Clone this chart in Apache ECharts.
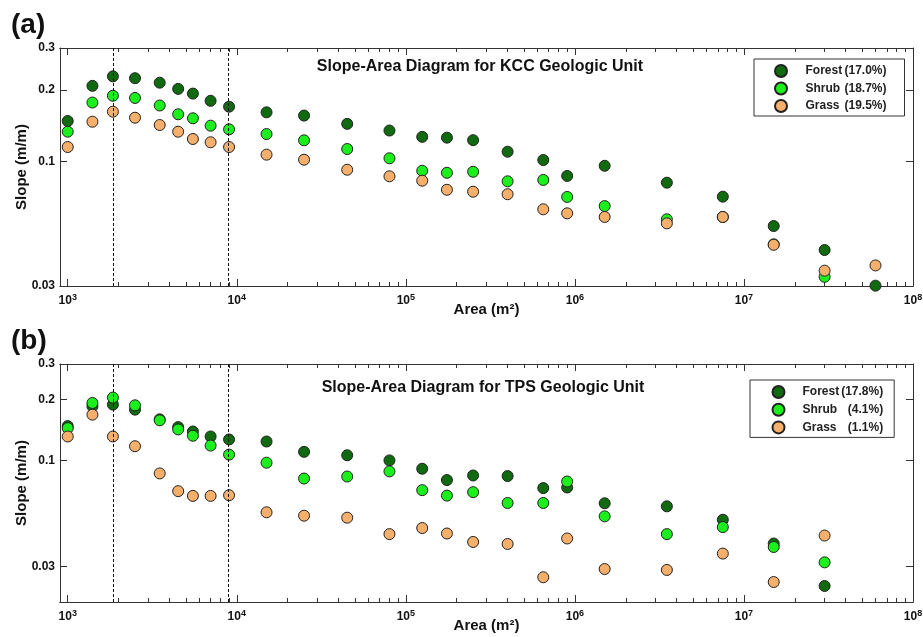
<!DOCTYPE html>
<html><head><meta charset="utf-8">
<script src="https://cdn.jsdelivr.net/npm/echarts@6/dist/echarts.min.js"></script>
<style>html,body{margin:0;padding:0;background:#fff}#c{width:923px;height:637px}</style>
</head><body><div id="c"></div>
<script>
// ---------- data ----------
const areaA = [1000,1400,1850,2500,3500,4500,5500,7000,9000,15000,25000,45000,80000,125000,175000,250000,400000,650000,900000,1500000,3500000,7500000,15000000,30000000,60000000];
const forestA = [0.148,0.208,0.228,0.224,0.2145,0.202,0.193,0.180,0.170,0.161,0.156,0.144,0.135,0.127,0.126,0.123,0.110,0.1015,0.087,0.096,0.0815,0.0712,0.0536,0.0425,0.0301];
const shrubA  = [0.1335,0.177,0.189,0.185,0.172,0.158,0.152,0.1415,0.1366,0.1305,0.1228,0.1129,0.1032,0.0915,0.0897,0.0906,0.0826,0.0837,0.071,0.065,0.0572,0.0585,0.0449,0.0328,null];
const grassA  = [0.1151,0.147,0.162,0.1528,0.1424,0.1335,0.1244,0.1205,0.1151,0.1069,0.1018,0.0924,0.0867,0.0831,0.0761,0.0747,0.0729,0.063,0.0606,0.0585,0.055,0.0585,0.0447,0.0348,0.0366];

const areaB = [1000,1400,1850,2500,3500,4500,5500,7000,9000,15000,25000,45000,80000,125000,175000,250000,400000,650000,900000,1500000,3500000,7500000,15000000,30000000];
const forestB = [0.148,0.1854,0.189,0.1785,0.1598,0.1463,0.1392,0.1315,0.1271,0.1242,0.1104,0.1062,0.1002,0.0911,0.0801,0.0844,0.0838,0.0731,0.0736,0.0615,0.0594,0.051,0.0389,0.024];
const shrubB  = [0.1446,0.1926,0.2048,0.1875,0.158,0.1425,0.1326,0.1186,0.107,0.0976,0.0815,0.0834,0.0884,0.0714,0.0671,0.0698,0.0617,0.0617,0.0788,0.053,0.0433,0.0469,0.0374,0.0314];
const grassB  = [0.1315,0.1686,0.1315,0.1177,0.0864,0.0706,0.0669,0.0669,0.0674,0.0555,0.0534,0.0522,0.0433,0.0464,0.0436,0.0396,0.0387,0.0265,0.0412,0.0291,0.0288,0.0347,0.0251,0.0426];

const namesA = ['Forest (17.0%)','Shrub (18.7%)','Grass (19.5%)'];
const namesB = ['Forest (17.8%)','Shrub (4.1%)','Grass (1.1%)'];
const titleA = 'Slope-Area Diagram for KCC Geologic Unit';
const titleB = 'Slope-Area Diagram for TPS Geologic Unit';

const xRange = [900, 1e8];
const xMajorTicks = [1e3,1e4,1e5,1e6,1e7,1e8];
const yRangeA = [0.03, 0.3];
const yRangeB = [0.02, 0.3];
const yTicksA = [0.03, 0.1, 0.2, 0.3];
const yTicksB = [0.03, 0.1, 0.2, 0.3];
const dashedAreas = [1850, 9000];

// ---------- helpers ----------
const L = Math.log10;
const FONT = '"Liberation Sans", Arial, sans-serif';
const COL = {forest:'#0f6a10', shrub:'#1cf01c', grass:'#f6b06c'};
const AX = '#333';
const minorX = [];
for (let d = 2; d <= 7; d++) for (let k = 2; k <= 9; k++) {
  const v = k * Math.pow(10, d);
  if (v > xRange[0] && v < xRange[1]) minorX.push(L(v));
}
const majorX = xMajorTicks.map(L);

function xAxis(grid, pos, ticks, len, labels) {
  return {
    type: 'value', gridIndex: grid, position: pos, min: L(xRange[0]), max: L(xRange[1]),
    axisLine: {show: true, onZero: false, lineStyle: {color: AX, width: 1}},
    axisTick: {show: true, inside: true, length: len, customValues: ticks, lineStyle: {color: AX, width: 1}},
    axisLabel: labels ? {
      show: true, customValues: ticks, margin: 7,
      formatter: v => '{b|10}{s|' + Math.round(v) + '}',
      rich: {
        b: {fontFamily: FONT, fontWeight: 'bold', fontSize: 12, color: '#111', lineHeight: 15},
        s: {fontFamily: FONT, fontWeight: 'bold', fontSize: 9, color: '#111', verticalAlign: 'top', lineHeight: 9}
      }
    } : {show: false},
    splitLine: {show: false}
  };
}
function yAxis(grid, pos, range, ticks, labels, name) {
  const tv = ticks.map(L);
  const o = {
    type: 'value', gridIndex: grid, position: pos, min: L(range[0]), max: L(range[1]),
    axisLine: {show: true, onZero: false, lineStyle: {color: AX, width: 1}},
    axisTick: {show: true, inside: true, length: 7, customValues: tv, lineStyle: {color: AX, width: 1}},
    axisLabel: labels ? {
      show: true, customValues: tv, margin: 5,
      fontFamily: FONT, fontWeight: 'bold', fontSize: 12, color: '#111',
      formatter: v => { for (const t of ticks) if (Math.abs(L(t) - v) < 1e-6) return String(t); return ''; }
    } : {show: false},
    splitLine: {show: false}
  };
  if (name) {
    o.name = name; o.nameLocation = 'middle'; o.nameGap = 31; o.nameMoveOverlap = false;
    o.nameTextStyle = {fontFamily: FONT, fontWeight: 'bold', fontSize: 15, color: '#111'};
  }
  return o;
}
function hiddenY(grid) { return {type: 'value', gridIndex: grid, show: false, min: 0, max: 1}; }

function scatter(name, xs, ys, color, xi, yi) {
  return {
    type: 'scatter', name: name, xAxisIndex: xi, yAxisIndex: yi, symbol: 'circle', symbolSize: 11,
    itemStyle: {color: color, borderColor: '#222', borderWidth: 1, opacity: 1},
    emphasis: {disabled: true},
    data: xs.map((x, i) => ys[i] == null ? null : [L(x), L(ys[i])]).filter(d => d)
  };
}
function dashed(xi, yi) {
  return {
    type: 'scatter', name: 'dash', xAxisIndex: xi, yAxisIndex: yi, z: 5, data: [], silent: true,
    markLine: {
      silent: true, symbol: 'none', label: {show: false},
      lineStyle: {color: '#111', width: 1, type: [3, 2]},
      data: dashedAreas.map(a => ({xAxis: L(a)}))
    }
  };
}
function legend(names, left, top, padding, itemW, gap, nW, pW) {
  return {
    data: names, orient: 'vertical', left: left, top: top, padding: padding,
    itemWidth: itemW, itemHeight: 12, itemGap: gap, selectedMode: false,
    borderColor: AX, borderWidth: 1, backgroundColor: '#fff',
    formatter: n => { const i = n.indexOf(' ('); return '{n|' + n.slice(0, i) + '}{p|' + n.slice(i + 1) + '}'; },
    textStyle: {
      fontFamily: FONT, fontWeight: 'bold', fontSize: 12, color: '#222',
      rich: {
        n: {fontFamily: FONT, fontWeight: 'bold', fontSize: 12, color: '#222', width: nW, lineHeight: 12},
        p: {fontFamily: FONT, fontWeight: 'bold', fontSize: 12, color: '#222', width: pW, align: 'right', lineHeight: 12}
      }
    }
  };
}
function txt(text, x, y, size, align) {
  return {type: 'text', x: x, y: y, z: 10,
    style: {text: text, fill: '#111', font: 'bold ' + size + 'px ' + FONT,
      textAlign: align, align: align, textVerticalAlign: 'middle', verticalAlign: 'middle'}};
}

const xName = {name: 'Area (m²)', nameLocation: 'middle', nameGap: 16, nameMoveOverlap: false,
  nameTextStyle: {fontFamily: FONT, fontWeight: 'bold', fontSize: 15, color: '#111'}};

const gA = {left: 60, top: 48, width: 853, height: 238, containLabel: false, outerBoundsMode: 'none'};
const gB = {left: 60, top: 364, width: 853, height: 238, containLabel: false, outerBoundsMode: 'none'};

const option = {
  animation: false,
  backgroundColor: '#fff',
  grid: [gA, Object.assign({}, gA), gB, Object.assign({}, gB)],
  xAxis: [
    Object.assign(xAxis(0, 'bottom', majorX, 7, true), xName),
    xAxis(0, 'top', majorX, 7, false),
    xAxis(1, 'bottom', minorX, 4, false),
    xAxis(1, 'top', minorX, 4, false),
    Object.assign(xAxis(2, 'bottom', majorX, 7, true), xName),
    xAxis(2, 'top', majorX, 7, false),
    xAxis(3, 'bottom', minorX, 4, false),
    xAxis(3, 'top', minorX, 4, false)
  ],
  yAxis: [
    yAxis(0, 'left', yRangeA, yTicksA, true, 'Slope (m/m)'),
    yAxis(0, 'right', yRangeA, yTicksA, false),
    hiddenY(1),
    yAxis(2, 'left', yRangeB, yTicksB, true, 'Slope (m/m)'),
    yAxis(2, 'right', yRangeB, yTicksB, false),
    hiddenY(3)
  ],
  legend: [
    legend(namesA, 754, 59, [5, 18, 3, 20], 39, 3.5, 36, 45),
    legend(namesB, 750, 380, [5, 11, 3, 21.5], 38, 3.7, 36, 44.7)
  ],
  graphic: [
    txt(titleA, 480, 67, 16, 'center'),
    txt(titleB, 483, 388, 16, 'center'),
    txt('(a)', 11, 25, 28, 'left'),
    txt('(b)', 11, 341, 28, 'left')
  ],
  series: [
    scatter(namesA[0], areaA, forestA, COL.forest, 0, 0),
    scatter(namesA[1], areaA, shrubA, COL.shrub, 0, 0),
    scatter(namesA[2], areaA, grassA, COL.grass, 0, 0),
    dashed(0, 0),
    scatter(namesB[0], areaB, forestB, COL.forest, 4, 3),
    scatter(namesB[1], areaB, shrubB, COL.shrub, 4, 3),
    scatter(namesB[2], areaB, grassB, COL.grass, 4, 3),
    dashed(4, 3)
  ]
};
const chart = echarts.init(document.getElementById('c'), null, {renderer: 'canvas'});
chart.setOption(option);
</script>
</body></html>
